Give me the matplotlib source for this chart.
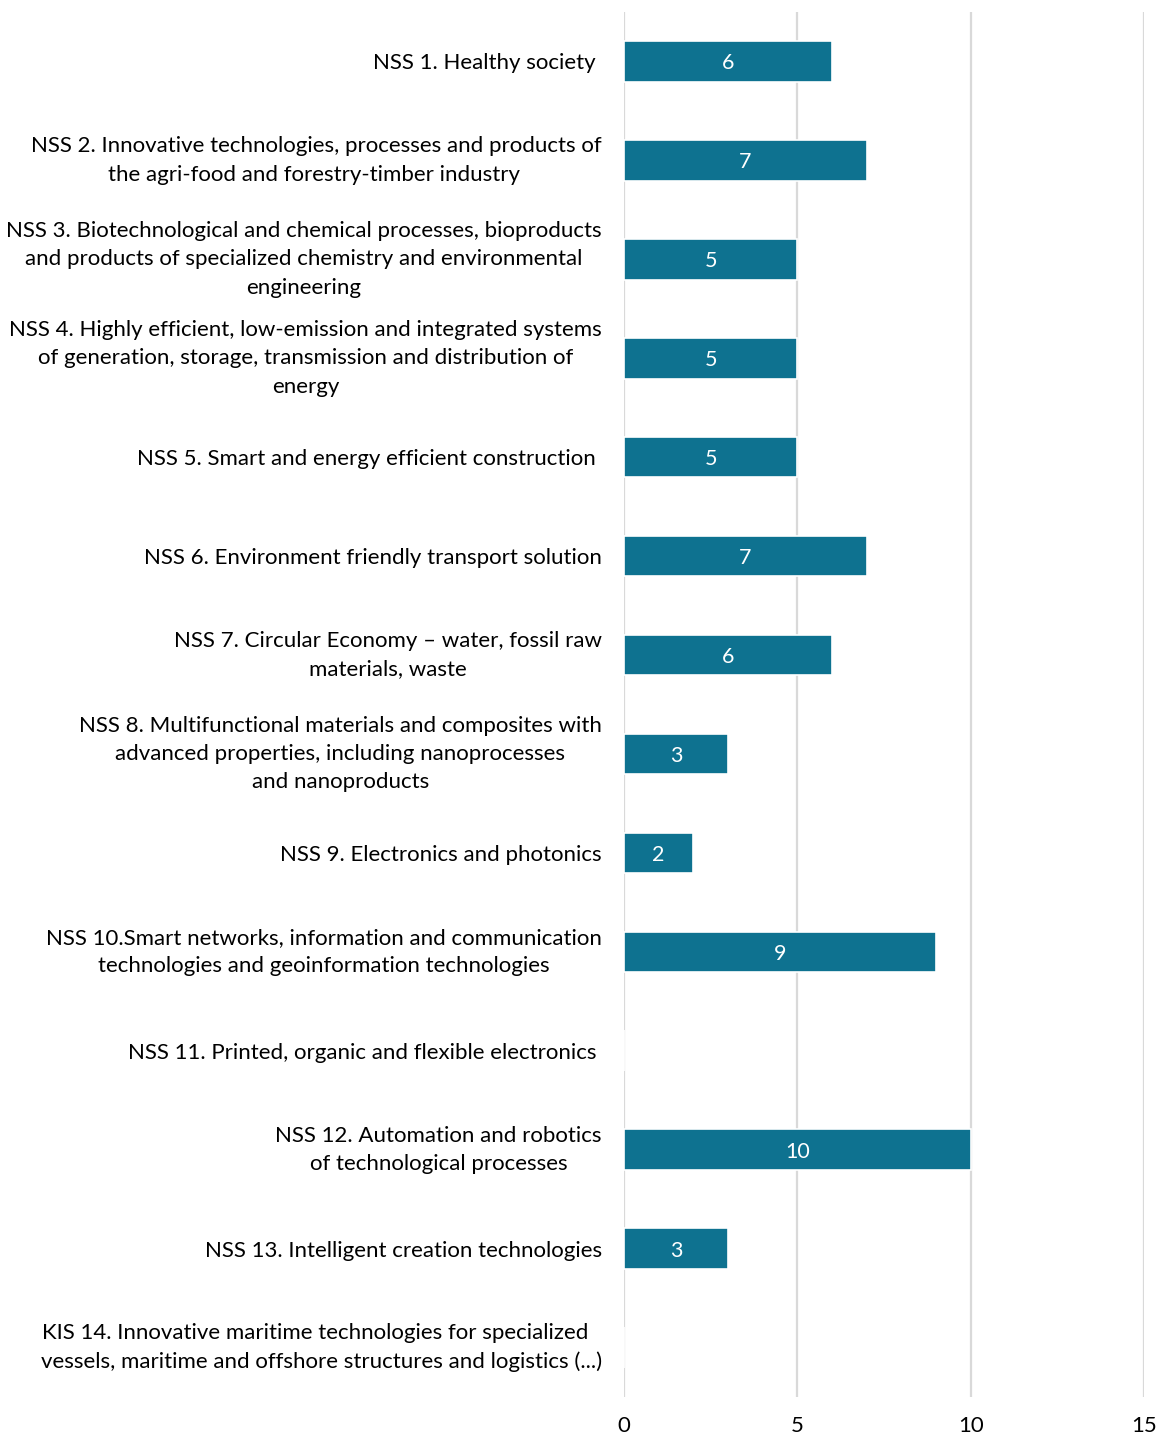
import matplotlib.pyplot as plt

# etiquetas de las especializaciones
categorias = [
    "NSS 1. Healthy society ",
    "NSS 2. Innovative technologies, processes and products of\nthe agri-food and forestry-timber industry ",
    "NSS 3. Biotechnological and chemical processes, bioproducts\nand products of specialized chemistry and environmental\nengineering",
    "NSS 4. Highly efficient, low-emission and integrated systems\nof generation, storage, transmission and distribution of\nenergy",
    "NSS 5. Smart and energy efficient construction ",
    "NSS 6. Environment friendly transport solution",
    "NSS 7. Circular Economy \u2013 water, fossil raw\nmaterials, waste",
    "NSS 8. Multifunctional materials and composites with\nadvanced properties, including nanoprocesses\nand nanoproducts",
    "NSS 9. Electronics and photonics",
    "NSS 10.Smart networks, information and communication\ntechnologies and geoinformation technologies",
    "NSS 11. Printed, organic and flexible electronics ",
    "NSS 12. Automation and robotics\nof technological processes",
    "NSS 13. Intelligent creation technologies",
    "KIS 14. Innovative maritime technologies for specialized  \nvessels, maritime and offshore structures and logistics (...)",
]
valores = [6, 7, 5, 5, 5, 7, 6, 3, 2, 9, 0, 10, 3, 0]
ticks_x = [0, 5, 10, 15]

color_barra = '#0e7290'

plt.rcParams['font.family'] = ['Lato', 'DejaVu Sans']

fig = plt.figure(figsize=(11.58, 14.37), dpi=100)
ax = fig.add_axes([624 / 1158, 1 - 1397 / 1437, 520 / 1158, 1385 / 1437])

pos = list(range(len(categorias)))
barras = ax.barh(pos, valores, height=0.41, color=color_barra, edgecolor='white',
                 linewidth=1.2, zorder=3)

# valor dentro de cada barra
for b, v in zip(barras, valores):
    if v == 0:
        continue
    ax.text(v / 2, b.get_y() + b.get_height() / 2 + 0.02, str(v), ha='center',
            va='center', color='white', fontsize=15.5, zorder=4)

ax.set_xlim(0, 15)
ax.set_ylim(len(categorias) - 0.5, -0.5)
ax.set_xticks(ticks_x)
ax.set_yticks(pos)
ax.set_yticklabels(categorias, fontsize=16, multialignment='center', linespacing=1.52)
# centrar verticalmente las etiquetas de varias lineas
for t in ax.get_yticklabels():
    if '\n' in t.get_text():
        t.set_verticalalignment('center')
ax.tick_params(axis='y', length=0, pad=16)
ax.tick_params(axis='x', length=0, pad=14, labelsize=16)

ax.grid(axis='x', color='#d9d9d9', linewidth=1.6, zorder=0)
for s in ax.spines.values():
    s.set_visible(False)

plt.savefig('out.png', dpi=100)
